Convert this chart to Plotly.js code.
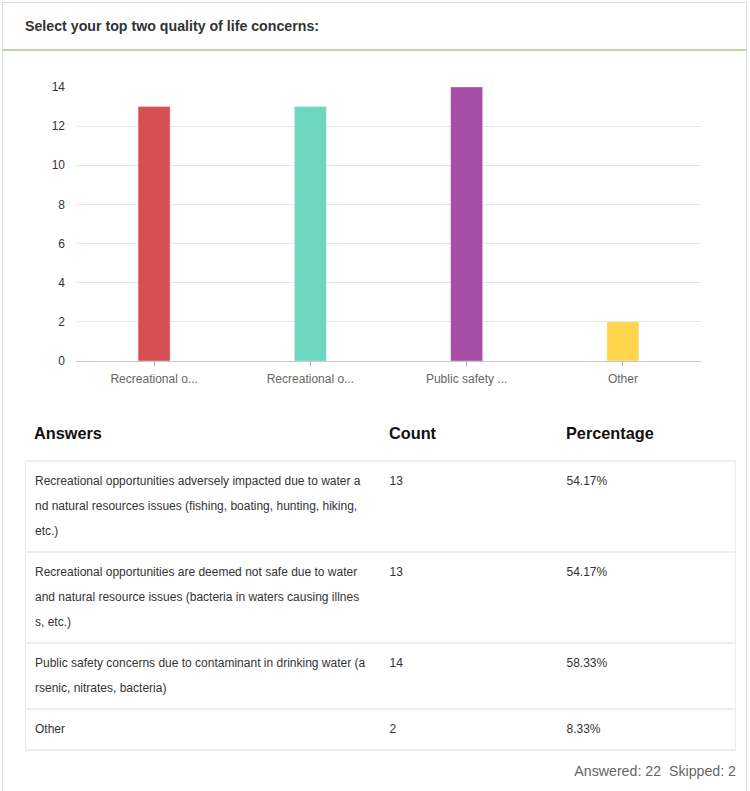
<!DOCTYPE html>
<html>
<head>
<meta charset="utf-8">
<script src="https://cdn.plot.ly/plotly-3.0.1.min.js"></script>
<style>
  html, body { margin: 0; padding: 0; background: #fff; }
  body { width: 750px; height: 791px; overflow: hidden; position: relative;
         font-family: "Liberation Sans", Arial, Helvetica, sans-serif; }
  #frame { position: absolute; left: 2px; top: 2px; width: 745px; height: 800px;
           border: 1px solid #dcdcdc; box-sizing: border-box; }
  #qtitle { position: absolute; left: 25px; top: 18px; font-size: 14.2px; font-weight: bold; color: #333; white-space: nowrap; }
  #rule { position: absolute; left: 3px; top: 49px; width: 744px; height: 2px; background: #b8d9a3; }
  #chart { position: absolute; left: 0; top: 60px; width: 750px; height: 340px; }
  #hdr { position: absolute; top: 424px; left: 25px; width: 710px; font-size: 16.3px; font-weight: bold; color: #111; }
  #hdr span { position: absolute; top: 0; white-space: nowrap; }
  #tbl { position: absolute; top: 460px; left: 25px; width: 710px; border-collapse: collapse;
         table-layout: fixed; font-size: 12px; color: #333; }
  #tbl td { border-top: 2px solid #e9eeee; border-bottom: 2px solid #e9eeee;
            border-left: none; border-right: none;
            padding: 7px 9px 7px 9px; line-height: 25px; vertical-align: top; }
  #tbl td:first-child { border-left: 1px solid #e9eeee; }
  #tbl td:last-child { border-right: 1px solid #e9eeee; }
  #tbl td.c1 { word-break: break-all; padding-right: 14px; }
  #foot { position: absolute; top: 763px; right: 14px; font-size: 14.2px; color: #666; white-space: pre; }
</style>
</head>
<body>
<div id="frame"></div>
<div id="qtitle"></div>
<div id="rule"></div>
<div id="chart"></div>
<div id="hdr"></div>
<table id="tbl"><colgroup><col style="width:355px"><col style="width:177px"><col style="width:178px"></colgroup><tbody></tbody></table>
<div id="foot"></div>
<script>
// ---- data ----
const questionTitle = "Select your top two quality of life concerns:";
const answers = [
  "Recreational opportunities adversely impacted due to water and natural resources issues (fishing, boating, hunting, hiking, etc.)",
  "Recreational opportunities are deemed not safe due to water and natural resource issues (bacteria in waters causing illness, etc.)",
  "Public safety concerns due to contaminant in drinking water (arsenic, nitrates, bacteria)",
  "Other"
];
const tickLabels = ["Recreational o...", "Recreational o...", "Public safety ...", "Other"];
const counts = [13, 13, 14, 2];
const percentages = ["54.17%", "54.17%", "58.33%", "8.33%"];
const columnHeaders = ["Answers", "Count", "Percentage"];
const answered = 22;
const skipped = 2;

// ---- styles ----
const barColors = ["#d84c50", "#6cd6be", "#a54ba4", "#fed54a"];
const FONT = "Liberation Sans, Arial, Helvetica, sans-serif";

document.getElementById("qtitle").textContent = questionTitle;

// ---- chart ----
const trace = {
  type: "bar",
  x: tickLabels.map((t, i) => i),
  y: counts,
  width: 0.205,
  marker: { color: barColors, opacity: 0.98, line: { color: "rgba(255,255,255,0.35)", width: 1 } },
  hoverinfo: "skip"
};
const layout = {
  width: 750, height: 340,
  margin: { l: 76, r: 49, t: 27, b: 39 },
  paper_bgcolor: "rgba(0,0,0,0)", plot_bgcolor: "rgba(0,0,0,0)",
  showlegend: false,
  font: { family: FONT },
  xaxis: {
    type: "linear", range: [-0.5, 3.5],
    tickmode: "array", tickvals: tickLabels.map((t, i) => i), ticktext: tickLabels,
    ticks: "outside", ticklen: 4, tickcolor: "#aaa", tickwidth: 1,
    ticklabelstandoff: 3,
    showgrid: false, zeroline: false,
    showline: true, linecolor: "#c8c8c8", linewidth: 1,
    tickfont: { size: 12, color: "#666", family: FONT }
  },
  yaxis: {
    range: [0, 14], dtick: 2, tick0: 0,
    showgrid: true, gridcolor: "#e6e6e6", gridwidth: 1,
    zeroline: false, showline: false, ticks: "",
    ticklabelstandoff: 10,
    tickfont: { size: 12, color: "#333", family: FONT }
  }
};
Plotly.newPlot("chart", [trace], layout, { staticPlot: true, displayModeBar: false });

// ---- table ----
const hdr = document.getElementById("hdr");
const hdrX = [9, 364, 541];
columnHeaders.forEach((h, i) => {
  const s = document.createElement("span");
  s.textContent = h; s.style.left = hdrX[i] + "px";
  hdr.appendChild(s);
});
const tbody = document.querySelector("#tbl tbody");
answers.forEach((a, i) => {
  const tr = document.createElement("tr");
  [a, String(counts[i]), percentages[i]].forEach((v, j) => {
    const td = document.createElement("td");
    td.textContent = v;
    if (j === 0) td.className = "c1";
    tr.appendChild(td);
  });
  tbody.appendChild(tr);
});
document.getElementById("foot").textContent = "Answered: " + answered + "  Skipped: " + skipped;
</script>
</body>
</html>
